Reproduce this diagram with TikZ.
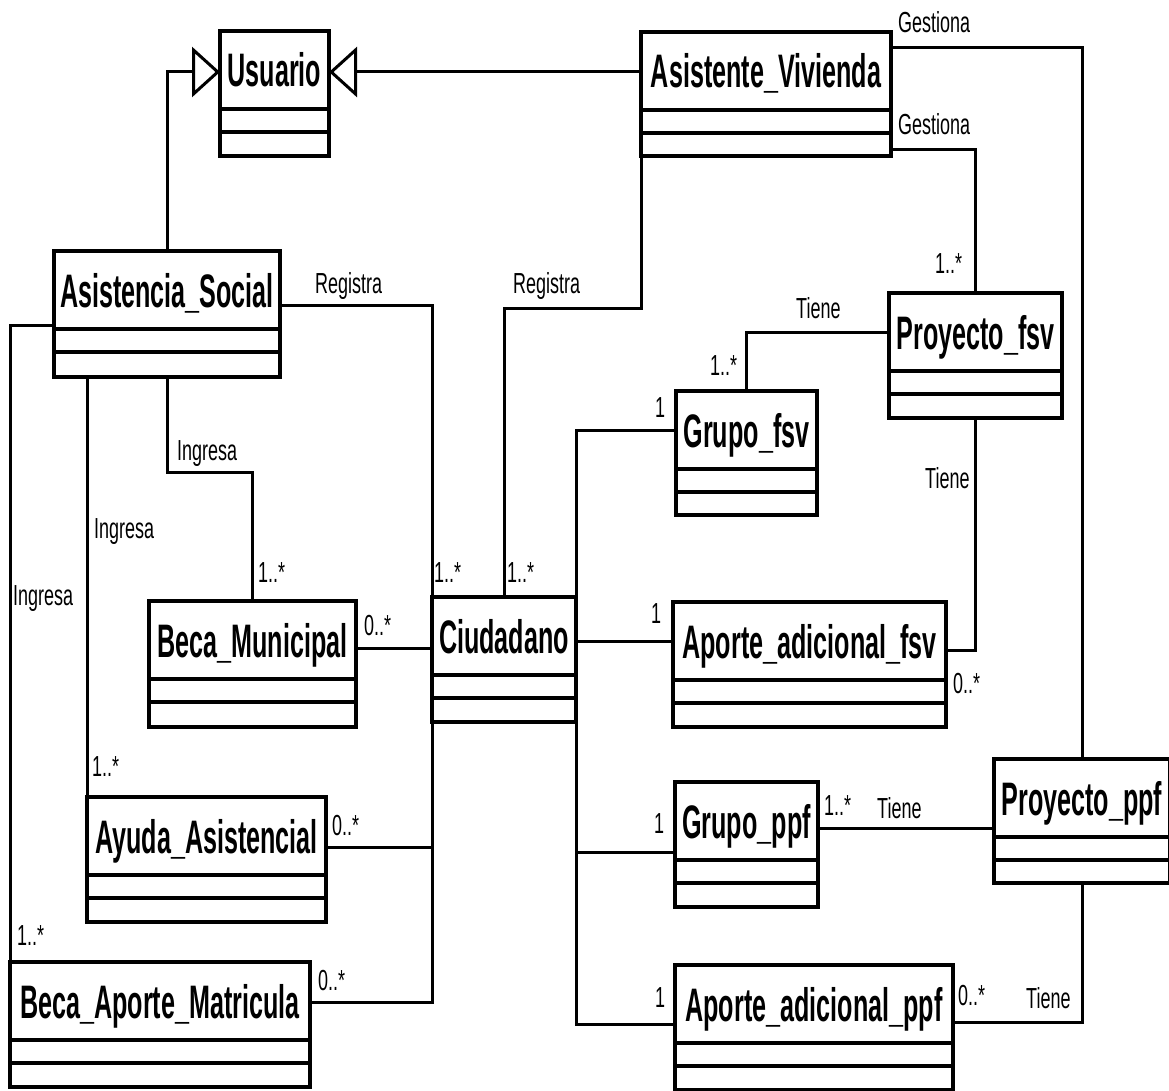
\documentclass[tikz,border=0pt]{standalone}
\usepackage{fontspec}
\newfontfamily\clsfont[FakeStretch=0.535]{Liberation Sans}
\newfontfamily\lblfont[FakeStretch=0.62]{Liberation Sans}
\usetikzlibrary{arrows.meta,calc}
\tikzset{
  clsbox/.style={draw, line width=4pt, rectangle, anchor=north west, inner sep=0pt, outer sep=0pt},
  clsline/.style={line width=4pt},
  clsname/.style={anchor=base, inner sep=0pt, font=\clsfont\bfseries\fontsize{47}{47}\selectfont},
  conn/.style={line width=3pt},
  gen/.style={line width=3pt, -{Triangle[open, length=28pt, width=50pt, fill=white]}},
  lbl/.style={anchor=base west, inner sep=0pt, font=\lblfont\fontsize{29}{29}\selectfont},
}
\newcommand\umlclass[6]{%
  \node[clsbox, minimum width={#4-#2}, minimum height={#5-#3}] (#1) at (#2,#3) {};
  \draw[clsline] (#2,#3+78) -- (#4,#3+78);
  \draw[clsline] (#2,#3+101) -- (#4,#3+101);
  \node[clsname] (#1-name) at ({(#2+#4)/2},#3+56) {#6};
}
\begin{document}
\begin{tikzpicture}[x=1pt,y=-1pt]
\useasboundingbox[fill=white] (0,0) rectangle (1169,1091);
% classes
\umlclass{usu}{220}{31}{329}{156}{Usuario}
\umlclass{as}{54}{251}{280}{377}{Asistencia\_Social}
\umlclass{av}{641}{32}{891}{156}{Asistente\_Vivienda}
\umlclass{pfsv}{889}{293}{1062}{418}{Proyecto\_fsv}
\umlclass{gfsv}{676}{391}{817}{515}{Grupo\_fsv}
\umlclass{bm}{149}{601}{356}{727}{Beca\_Municipal}
\umlclass{ciu}{432}{597}{576}{722}{Ciudadano}
\umlclass{afsv}{673}{602}{946}{727}{Aporte\_adicional\_fsv}
\umlclass{aa}{87}{797}{326}{922}{Ayuda\_Asistencial}
\umlclass{gppf}{675}{782}{818}{907}{Grupo\_ppf}
\umlclass{pppf}{994}{759}{1170}{883}{Proyecto\_ppf}
\umlclass{bam}{10}{962}{310}{1087}{Beca\_Aporte\_Matricula}
\umlclass{appf}{675}{965}{953}{1090}{Aporte\_adicional\_ppf}
% generalizations
\draw[gen] (as.north) |- (usu.west|-0,72);
\draw[gen] (av.west|-0,72) -- (usu.east|-0,72);
% associations
\draw[conn] (as.east|-0,305) -| (ciu.north west);
\draw[conn] (as.south) -- (as.south|-0,472) -| (bm.north);
\draw[conn] (aa.north west|-0,377) -- (aa.north west);
\draw[conn] (as.west|-0,325) -| (bam.north west);
\draw[conn] (bm.east|-0,648) -- (ciu.west|-0,648);
\draw[conn] (aa.east|-0,847) -| (ciu.south west);
\draw[conn] (bam.east|-0,1002) -| (ciu.south west);
\draw[conn] (av.south west) |- (ciu.north|-0,308) -- (ciu.north);
\draw[conn] (av.east|-0,48) -| (pppf.north);
\draw[conn] (av.east|-0,150) -| (pfsv.north);
\draw[conn] (pfsv.west|-0,332) -| (gfsv.north);
\draw[conn] (pfsv.south) |- (afsv.east|-0,650);
\draw[conn] (gfsv.west|-0,430) -| (ciu.north east);
\draw[conn] (ciu.east|-0,641) -- (afsv.west|-0,641);
\draw[conn] (ciu.south east) |- (gppf.west|-0,852);
\draw[conn] (ciu.south east) |- (appf.west|-0,1024);
\draw[conn] (gppf.east|-0,828) -- (pppf.west|-0,828);
\draw[conn] (appf.east|-0,1022) -| (pppf.south);
% labels
\node[lbl] (l1) at (898,33) {Gestiona};
\node[lbl] (l2) at (898,135) {Gestiona};
\node[lbl] (l3) at (315,293) {Registra};
\node[lbl] (l4) at (513,293) {Registra};
\node[lbl] (l5) at (935,273) {1..*};
\node[lbl] (l6) at (796,318) {Tiene};
\node[lbl] (l7) at (710,375) {1..*};
\node[lbl] (l8) at (655,417) {1};
\node[lbl] (l9) at (925,488) {Tiene};
\node[lbl] (l10) at (177,460) {Ingresa};
\node[lbl] (l11) at (94,538) {Ingresa};
\node[lbl] (l12) at (13,605) {Ingresa};
\node[lbl] (l13) at (258,582) {1..*};
\node[lbl] (l14) at (364,635) {0..*};
\node[lbl] (l15) at (434,582) {1..*};
\node[lbl] (l16) at (507,582) {1..*};
\node[lbl] (l17) at (651,623) {1};
\node[lbl] (l18) at (953,693) {0..*};
\node[lbl] (l19) at (654,833) {1};
\node[lbl] (l20) at (824,815) {1..*};
\node[lbl] (l21) at (877,818) {Tiene};
\node[lbl] (l22) at (655,1007) {1};
\node[lbl] (l23) at (958,1005) {0..*};
\node[lbl] (l24) at (1026,1008) {Tiene};
\node[lbl] (l25) at (92,776) {1..*};
\node[lbl] (l26) at (332,835) {0..*};
\node[lbl] (l27) at (17,945) {1..*};
\node[lbl] (l28) at (318,990) {0..*};
\end{tikzpicture}
\end{document}
